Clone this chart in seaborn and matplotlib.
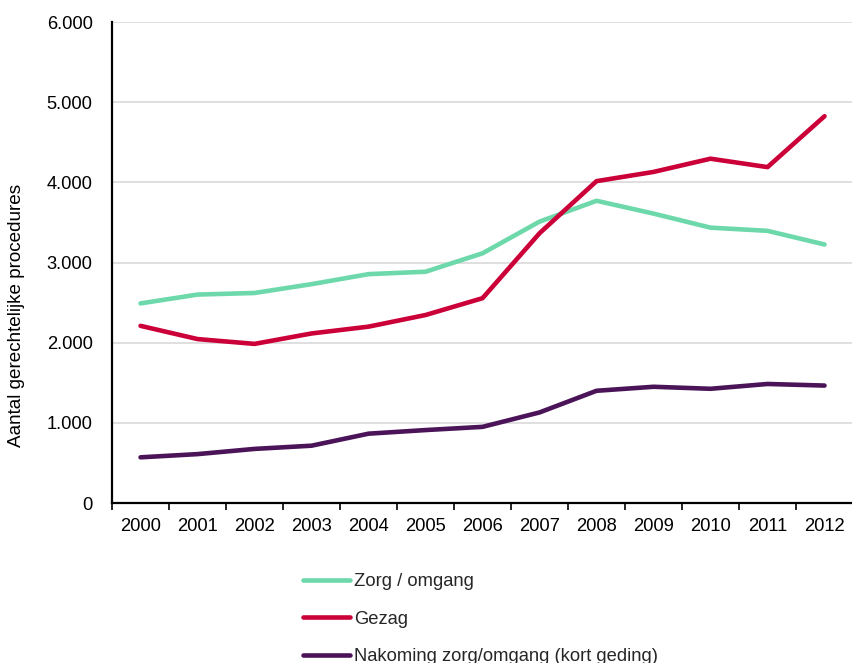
import numpy as np
import pandas as pd
import matplotlib
matplotlib.use("Agg")
import matplotlib.pyplot as plt
import matplotlib.ticker as mticker
import seaborn as sns

# data
years = [str(y) for y in range(2000, 2013)]
zorg_omgang = [2490, 2600, 2620, 2730, 2855, 2885, 3115, 3510, 3770, 3610, 3435, 3395, 3225]
gezag = [2210, 2045, 1985, 2115, 2200, 2345, 2555, 3365, 4015, 4130, 4295, 4190, 4825]
nakoming = [570, 610, 675, 715, 865, 910, 950, 1130, 1400, 1450, 1425, 1485, 1465]
series_names = ["Zorg / omgang", "Gezag", "Nakoming zorg/omgang (kort geding)"]
colors = ["#6dd9ab", "#cc0039", "#4b1459"]

df = pd.DataFrame({"jaar": years * 3,
                   "aantal": zorg_omgang + gezag + nakoming,
                   "soort": np.repeat(series_names, len(years))})
df["x"] = np.tile(np.arange(len(years)), 3)

sns.set_theme(style="white")
plt.rcParams['font.family'] = ['Liberation Sans', 'DejaVu Sans']
fs = 13.2

fig = plt.figure(figsize=(8.52, 6.63), dpi=100)
ax = fig.add_axes([0.1315, 0.2413, 0.8697, 0.7255])

sns.lineplot(data=df, x="x", y="aantal", hue="soort", hue_order=series_names,
             palette=colors, linewidth=3.3, ax=ax, legend=False,
             solid_capstyle="round")

# axes styling
ax.set_xlim(-0.5, len(years) - 0.5)
ax.set_ylim(0, 6000)
ax.set_yticks(range(0, 6001, 1000))
ax.yaxis.set_major_formatter(mticker.FuncFormatter(lambda v, p: f"{int(v):,}".replace(",", ".")))
ax.set_xticks(range(len(years)))
ax.set_xticklabels(years)
ax.xaxis.set_minor_locator(mticker.FixedLocator(np.arange(-0.5, len(years), 1)))
ax.tick_params(axis="x", which="major", length=0, pad=11, labelsize=fs, labelcolor="black")
ax.tick_params(axis="x", which="minor", length=5, width=1.2, color="black", direction="out", bottom=True)
ax.tick_params(axis="y", length=0, pad=14, labelsize=fs, labelcolor="black")
ax.grid(axis="y", color="#d9d9d9", linewidth=1.2)
ax.set_axisbelow(True)
for side in ["top", "right"]:
    ax.spines[side].set_visible(False)
for side in ["left", "bottom"]:
    ax.spines[side].set_color("black")
    ax.spines[side].set_linewidth(1.6)
ax.set_xlabel("")
ax.set_ylabel("Aantal gerechtelijke procedures", fontsize=13.6, color="black")
ax.yaxis.set_label_coords(-0.117, 0.39)

# legend below the chart (cut off at the bottom edge, as in the original)
handles = [plt.Line2D([], [], color=c, linewidth=3.3, solid_capstyle="round") for c in colors]
fig.legend(handles, series_names, loc="upper left", bbox_to_anchor=(0.3556, 0.1357),
           frameon=False, fontsize=fs, handlelength=2.57, handletextpad=0.2,
           labelspacing=1.13, borderaxespad=0, borderpad=0)

fig.savefig("out.png", dpi=100)
